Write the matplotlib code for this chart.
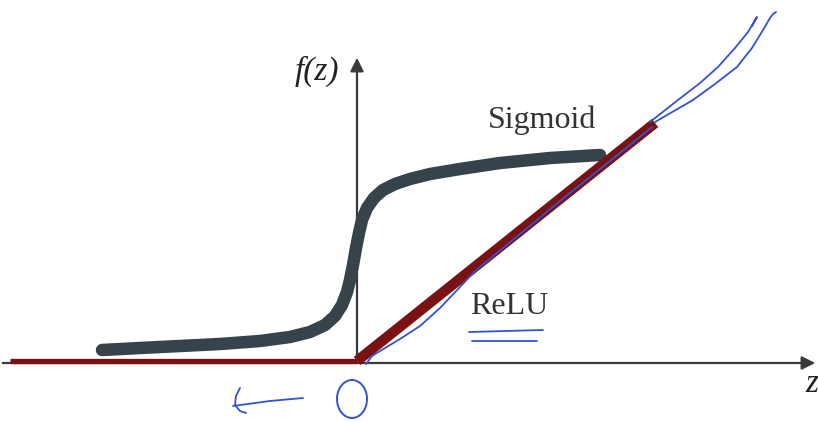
import matplotlib.pyplot as plt
from matplotlib.patches import Ellipse

# ReLU: flat on the left, straight ramp on the right
relu_z = [-347, 0, 298]
relu_f = [0, 0, 238]

# sigmoid curve, sketched by hand
sig_z = [-255, -217, -177, -137, -97, -67, -47, -32, -22, -15, -10, -7, -4, -1,
         2, 5, 10, 17, 26, 38, 53, 73, 103, 143, 193, 243]
sig_f = [11, 13, 15, 17, 20, 24, 29, 36, 45, 56, 69, 81, 96, 113,
         128, 141, 153, 163, 171, 177, 182, 187, 192, 198, 203, 206]

# blue pen strokes drawn over the figure
pen_relu_z = [9, 15, 28, 43, 63, 83, 103, 118, 163, 203, 243, 273, 295]
pen_relu_f = [-3, 5, 13, 22, 35, 53, 74, 90, 127, 160, 192, 216, 234]
pen_a_z = [293, 321, 343, 361, 378, 391, 400, 395]
pen_a_f = [239, 261, 278, 294, 313, 329, 344, 335]
pen_b_z = [298, 336, 358, 380, 395, 406, 413, 416, 419]
pen_b_f = [239, 261, 277, 294, 313, 331, 343, 347, 349]
arrow_z = [-124, -87, -54]
arrow_f = [-45, -40, -37]
hook_z = [-117, -121, -122, -117, -111]
hook_f = [-27, -35, -44, -50, -52]
ul1_z, ul1_f = [112, 186], [29, 31]
ul2_z, ul2_f = [115, 180], [20, 20]

red = '#7a1214'
slate = '#36434b'
blue = '#3352d0'
axis_col = '#3a3a3a'

fig = plt.figure(figsize=(8.18, 4.21), dpi=100)
ax = fig.add_axes([0, 0, 1, 1])
ax.set_xlim(-357, 461)
ax.set_ylim(-60, 361)
ax.axis('off')

# axes with arrow heads
ax.annotate('', xy=(461, -2), xytext=(-357, -2),
            arrowprops=dict(arrowstyle='-|>', mutation_scale=20, lw=1.6, color=axis_col))
ax.annotate('', xy=(0, 306), xytext=(0, -2),
            arrowprops=dict(arrowstyle='-|>', mutation_scale=20, lw=1.6, color=axis_col))

ax.plot(sig_z, sig_f, color=slate, lw=9, solid_capstyle='round',
        solid_joinstyle='round', zorder=3)
ax.plot(relu_z[:2], relu_f[:2], color=red, lw=3.8, solid_capstyle='butt', zorder=4)
ax.plot(relu_z[1:], relu_f[1:], color=red, lw=7.5, solid_capstyle='butt', zorder=4)

for zs, fs in [(pen_relu_z, pen_relu_f), (pen_a_z, pen_a_f), (pen_b_z, pen_b_f),
               (arrow_z, arrow_f), (hook_z, hook_f), (ul1_z, ul1_f), (ul2_z, ul2_f)]:
    ax.plot(zs, fs, color=blue, lw=1.3, solid_capstyle='round',
            solid_joinstyle='round', zorder=5)
ax.add_patch(Ellipse((-5, -38), 30, 38, fill=False, ec=blue, lw=1.4, zorder=5))

serif = 'Liberation Serif'
ax.text(185, 233, 'Sigmoid', family=serif, fontsize=23, color='#333333',
        ha='center', va='baseline')
ax.text(152, 47, 'ReLU', family=serif, fontsize=23, color='#333333',
        ha='center', va='baseline')
ax.text(-40, 281, 'f(z)', family=serif, style='italic', fontsize=24, color='#222222',
        ha='center', va='baseline')
ax.text(455, -31, 'z', family=serif, style='italic', fontsize=24, color='#222222',
        ha='center', va='baseline')

fig.savefig('out.png', dpi=100)
